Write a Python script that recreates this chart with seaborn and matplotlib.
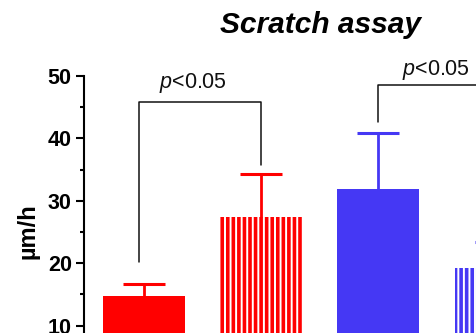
import matplotlib
matplotlib.use("Agg")
import matplotlib.pyplot as plt
import seaborn as sns
import pandas as pd
import numpy as np

# ---- data ----
groups = ["Ctrl red", "Treated red", "Ctrl blue", "Treated blue"]
means = [14.7, 27.4, 31.9, 19.2]
sem = [1.95, 6.9, 9.0, 4.2]
bar_colors = ["#FF0000", "#FF0000", "#4538F4", "#4538F4"]
hatched = [False, True, False, True]
y_ticks = [0, 10, 20, 30, 40, 50]
y_minor = [5, 15, 25, 35, 45]
# significance brackets
bracket_x_left = [-0.04, 2.0]
bracket_x_right = [1.0, 3.0]
bracket_y_left = [20.2, 42.6]
bracket_y_top = [45.9, 48.6]
bracket_y_right = [35.7, 40.0]
sig_text_x = [0.42, 2.49]
sig_text_y = [48.1, 50.2]
sig_label = r"$\mathit{p}$<0.05"

sns.set_style("ticks")
plt.rcParams["font.family"] = ["Liberation Sans", "DejaVu Sans"]
plt.rcParams["mathtext.fontset"] = "custom"
plt.rcParams["mathtext.it"] = "Liberation Sans:italic"
plt.rcParams["mathtext.rm"] = "Liberation Sans"
plt.rcParams["hatch.linewidth"] = 1.4
plt.rcParams["text.color"] = "black"
plt.rcParams["axes.labelcolor"] = "black"
plt.rcParams["ytick.color"] = "black"
plt.rcParams["xtick.color"] = "black"
plt.rcParams["axes.edgecolor"] = "black"

df = pd.DataFrame({"group": groups, "value": means})

fig = plt.figure(figsize=(4.76, 3.33), dpi=100)
ax = fig.add_axes([84 / 476, (333 - 388) / 333, (566 - 84) / 476, (388 - 76) / 333])

sns.barplot(data=df, x="group", y="value", hue="group", order=groups,
            hue_order=groups, palette=bar_colors, width=0.7, legend=False,
            errorbar=None, saturation=1, ax=ax, linewidth=0)

for patch, h, c in zip(ax.patches, hatched, bar_colors):
    patch.set_facecolor(c)
    patch.set_linewidth(0)
    if h:
        patch.set_hatch("|||")
        patch.set_edgecolor("white")

for i, (m, e, c) in enumerate(zip(means, sem, bar_colors)):
    _, caps, _ = ax.errorbar(i, m, yerr=[[0], [e]], fmt="none", ecolor=c,
                             elinewidth=2.0, capsize=14.8, capthick=2.2, zorder=1)
    for cap in caps:
        yd = np.asarray(cap.get_ydata(), dtype=float)
        if np.allclose(yd, m):
            cap.set_visible(False)

for xl, xr, yl, yt, yr in zip(bracket_x_left, bracket_x_right, bracket_y_left,
                              bracket_y_top, bracket_y_right):
    ax.plot([xl, xl, xr, xr], [yl, yt, yt, yr], color="#111111", lw=1.1,
            clip_on=False, zorder=3)
for tx, ty in zip(sig_text_x, sig_text_y):
    ax.text(tx, ty, sig_label, ha="center", va="baseline", fontsize=15.5,
            color="#111111", clip_on=False)

ax.set_xlim(-0.51, 3.6)
ax.set_ylim(0, 50)
ax.set_yticks(y_ticks)
ax.set_yticks(y_minor, minor=True)
ax.set_yticklabels([str(t) for t in y_ticks], fontsize=15.5, fontweight="bold")
ax.tick_params(axis="y", which="major", direction="out", length=5.8, width=1.5,
               pad=3, color="black")
ax.tick_params(axis="y", which="minor", direction="out", length=3, width=1.5,
               color="black")
ax.set_xticks([])
ax.set_xlabel("")
for s in ["top", "right"]:
    ax.spines[s].set_visible(False)
ax.spines["left"].set_linewidth(1.5)
ax.spines["bottom"].set_linewidth(1.5)

ax.set_ylabel("µm/h", fontsize=17, fontweight="bold", va="center", color="black")
ax.yaxis.set_label_coords(-0.116, 0.503)

fig.text(320 / 476, 1 - 33 / 333, "Scratch assay", ha="center", va="baseline",
         fontsize=21.5, fontweight="bold", fontstyle="italic", color="black")

fig.savefig("out.png", dpi=100)
